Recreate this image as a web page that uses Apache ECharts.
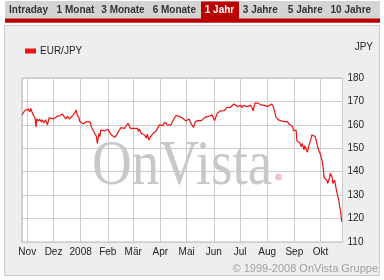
<!DOCTYPE html>
<html><head><meta charset="utf-8">
<script src="https://cdn.jsdelivr.net/npm/echarts@6/dist/echarts.min.js"></script>
<style>html,body{margin:0;padding:0;background:#fff;}#c{width:384px;height:280px;}</style>
</head><body><div id="c"></div>
<script>
const seriesName = 'EUR/JPY';
const unitLabel = 'JPY';
const tabs = ['Intraday','1 Monat','3 Monate','6 Monate','1 Jahr','3 Jahre','5 Jahre','10 Jahre'];
const activeTab = '1 Jahr';
const monthNames = ['Jan','Feb','Mär','Apr','Mai','Jun','Jul','Aug','Sep','Okt','Nov','Dez'];
const yTicks = [110,120,130,140,150,160,170,180];
const copyright = '© 1999-2008 OnVista Gruppe';
const dates = [
'2007-10-26','2007-10-29','2007-10-31','2007-11-02','2007-11-04','2007-11-05','2007-11-07','2007-11-09','2007-11-10','2007-11-11',
'2007-11-12','2007-11-14','2007-11-15','2007-11-17','2007-11-18','2007-11-20','2007-11-22','2007-11-24','2007-11-26','2007-11-28',
'2007-12-01','2007-12-03','2007-12-05','2007-12-08','2007-12-09','2007-12-11','2007-12-13','2007-12-15','2007-12-17','2007-12-19',
'2007-12-21','2007-12-23','2007-12-25','2007-12-27','2007-12-28','2007-12-30','2007-12-31','2008-01-02','2008-01-04','2008-01-06',
'2008-01-08','2008-01-10','2008-01-12','2008-01-13','2008-01-15','2008-01-17','2008-01-19','2008-01-20','2008-01-22','2008-01-23',
'2008-01-24','2008-01-25','2008-01-26','2008-01-28','2008-01-30','2008-02-01','2008-02-03','2008-02-05','2008-02-07','2008-02-09',
'2008-02-11','2008-02-13','2008-02-14','2008-02-16','2008-02-18','2008-02-20','2008-02-22','2008-02-24','2008-02-26','2008-02-27',
'2008-02-29','2008-03-02','2008-03-04','2008-03-06','2008-03-07','2008-03-08','2008-03-10','2008-03-12','2008-03-14','2008-03-16',
'2008-03-17','2008-03-19','2008-03-21','2008-03-23','2008-03-25','2008-03-27','2008-03-28','2008-03-31','2008-04-02','2008-04-04',
'2008-04-06','2008-04-07','2008-04-09','2008-04-11','2008-04-13','2008-04-15','2008-04-17','2008-04-19','2008-04-21','2008-04-23',
'2008-04-25','2008-04-26','2008-04-28','2008-04-30','2008-05-02','2008-05-04','2008-05-05','2008-05-07','2008-05-09','2008-05-11',
'2008-05-12','2008-05-14','2008-05-16','2008-05-18','2008-05-20','2008-05-22','2008-05-24','2008-05-26','2008-05-28','2008-05-30',
'2008-05-31','2008-06-02','2008-06-03','2008-06-05','2008-06-07','2008-06-09','2008-06-11','2008-06-13','2008-06-15','2008-06-16',
'2008-06-18','2008-06-20','2008-06-22','2008-06-24','2008-06-26','2008-06-28','2008-06-30','2008-07-02','2008-07-03','2008-07-05',
'2008-07-07','2008-07-09','2008-07-11','2008-07-13','2008-07-15','2008-07-16','2008-07-18','2008-07-20','2008-07-21','2008-07-23',
'2008-07-25','2008-07-27','2008-07-29','2008-07-31','2008-08-02','2008-08-04','2008-08-06','2008-08-08','2008-08-09','2008-08-10',
'2008-08-11','2008-08-12','2008-08-14','2008-08-16','2008-08-17','2008-08-19','2008-08-21','2008-08-22','2008-08-24','2008-08-26',
'2008-08-28','2008-08-30','2008-08-31','2008-09-03','2008-09-04','2008-09-06','2008-09-07','2008-09-09','2008-09-10','2008-09-12',
'2008-09-13','2008-09-14','2008-09-16','2008-09-17','2008-09-18','2008-09-20','2008-09-21','2008-09-23','2008-09-25','2008-09-26',
'2008-09-27','2008-09-28','2008-09-30','2008-10-01','2008-10-02','2008-10-03','2008-10-04','2008-10-05','2008-10-06','2008-10-08',
'2008-10-09','2008-10-11','2008-10-12','2008-10-14','2008-10-15','2008-10-16','2008-10-17','2008-10-18','2008-10-19','2008-10-21',
'2008-10-22','2008-10-23','2008-10-24','2008-10-25'
];
const values = [
164.2,166.0,165.5,166.7,165.5,167.0,164.9,165.6,162.8,159.0,
162.5,161.6,162.5,161.2,162.2,160.8,162.2,160.0,163.0,162.2,
162.5,162.2,163.6,163.9,163.2,164.6,163.6,162.5,163.6,162.5,
163.3,164.0,165.0,166.3,164.2,163.2,161.4,160.8,160.5,160.5,
161.4,162.2,161.2,159.3,157.8,156.4,155.0,152.1,156.4,155.0,
157.8,157.1,158.5,157.4,158.2,158.1,157.8,155.7,155.0,154.7,
155.7,157.1,157.8,158.8,159.3,158.5,159.3,160.7,160.7,158.5,
159.3,158.5,157.8,158.5,157.1,158.2,156.4,157.1,155.7,154.3,
156.0,153.5,155.0,156.0,156.8,157.4,156.8,160.0,160.3,159.7,
161.1,160.7,160.0,159.2,160.0,161.4,162.9,164.0,164.0,163.6,
163.2,162.9,162.1,161.7,162.1,162.5,161.4,160.0,158.9,161.4,
162.1,161.8,162.1,161.8,162.1,163.2,162.9,163.6,163.6,164.3,
163.6,161.8,162.1,165.0,165.7,166.0,166.4,166.1,166.8,167.4,
167.1,167.4,167.8,168.9,168.3,167.8,168.5,168.3,167.4,168.3,
168.5,167.8,168.5,168.3,167.1,166.0,169.3,169.3,169.3,168.9,
168.5,168.9,168.3,168.5,167.8,168.3,168.9,167.8,166.4,165.0,
163.2,162.5,162.1,162.1,161.7,161.8,161.4,162.1,161.4,160.3,
160.7,159.3,157.5,157.8,153.1,153.5,152.5,150.7,152.1,149.3,
151.1,150.7,148.3,150.3,150.0,154.0,155.7,156.0,155.0,155.4,
155.0,150.0,149.3,147.1,145.7,144.3,141.4,137.4,137.8,136.4,
135.0,137.1,139.3,137.8,135.0,134.3,136.4,135.7,132.2,131.5,
127.2,124.6,122.9,118.7
];
const xMin = '2007-10-26';
const xMax = '2008-10-26';

const data = dates.map((d, i) => [d, values[i]]);
const DAY = 86400000;

const tabCenters = [28.5, 75.5, 123, 174.3, 219.5, 260.3, 305.3, 350.8];
const graphics = [
  {type:'rect', z:-10, shape:{x:4.5, y:25.5, width:375, height:250}, style:{fill:'#eeeeee', stroke:'#cccccc', lineWidth:1}},
  {type:'rect', z:-10, shape:{x:5, y:1, width:375, height:18}, style:{fill:'#d4d4d4'}},
  {type:'rect', z:-10, shape:{x:5, y:18.5, width:375, height:4.3}, style:{fill:'#bb0000'}},
  {type:'rect', z:-10, shape:{x:201, y:1.5, width:38, height:18}, style:{fill:'#bb0000'}}
];
tabs.forEach((t, i) => {
  const active = t === activeTab;
  graphics.push({type:'text', z:-5, x:tabCenters[i], y:10,
    style:{text:t, font:'bold 10px "Liberation Sans", Arial, sans-serif', fill: active ? '#ffffff' : '#333333',
      textAlign:'center', textVerticalAlign:'middle'}});
});
graphics.push({type:'text', z:-5, x:373, y:47.5,
  style:{text:unitLabel, font:'10px "Liberation Sans", Arial, sans-serif', fill:'#222', textAlign:'right', textVerticalAlign:'middle'}});
graphics.push({type:'text', z:-5, x:378, y:269,
  style:{text:copyright, font:'11px "Liberation Sans", Arial, sans-serif', fill:'#a0a0a0', textAlign:'right', textVerticalAlign:'middle'}});
graphics.push({type:'text', z:1, x:92, y:167, scaleX:0.86,
  style:{text:'OnVista', font:'64px "Liberation Serif", "Times New Roman", serif', fill:'#c8c8c8', textAlign:'left', textVerticalAlign:'middle'}});
graphics.push({type:'circle', z:1, shape:{cx:278.5, cy:177, r:3.5}, style:{fill:'#f2c4c8'}});

const chart = echarts.init(document.getElementById('c'), null, {renderer:'canvas'});
chart.setOption({
  useUTC: true,
  animation: false,
  graphic: graphics,
  legend: {
    data: [seriesName], left: 20, top: 41, icon: 'rect', itemWidth: 11, itemHeight: 5, itemGap: 5,
    textStyle: {fontFamily:'"Liberation Sans", Arial, sans-serif', fontSize: 10, color:'#222', padding:[0,0,0,-1]}
  },
  grid: {left: 22, right: 41.5, top: 78, bottom: 38, show: true, backgroundColor: '#ffffff', borderColor: '#bbbbbb', borderWidth: 1},
  xAxis: {
    type: 'time', min: xMin, max: xMax, splitNumber: 12,
    minInterval: 28 * DAY, maxInterval: 31 * DAY,
    axisLine: {show:false}, axisTick: {show:false},
    splitLine: {show:true, lineStyle:{color:'#cccccc', width:1}},
    axisLabel: {
      margin: 5, color:'#222', fontSize: 10, fontFamily:'"Liberation Sans", Arial, sans-serif',
      showMinLabel: false, showMaxLabel: false, hideOverlap: false,
      formatter: function (v) {
        const d = new Date(v);
        const m = d.getUTCMonth();
        return m === 0 ? String(d.getUTCFullYear()) : monthNames[m];
      }
    }
  },
  yAxis: {
    type: 'value', position: 'right', min: yTicks[0], max: yTicks[yTicks.length-1], interval: 10,
    axisLine: {show:false}, axisTick: {show:false},
    splitLine: {show:true, lineStyle:{color:'#cccccc', width:1}},
    axisLabel: {margin: 5, color:'#222', fontSize: 10, fontFamily:'"Liberation Sans", Arial, sans-serif'}
  },
  series: [{
    name: seriesName, type: 'line', data: data, showSymbol: false, symbol: 'none', z: 5,
    lineStyle: {color:'#ee1111', width:1.2}, itemStyle: {color:'#ee1111'}
  }]
});
</script></body></html>
